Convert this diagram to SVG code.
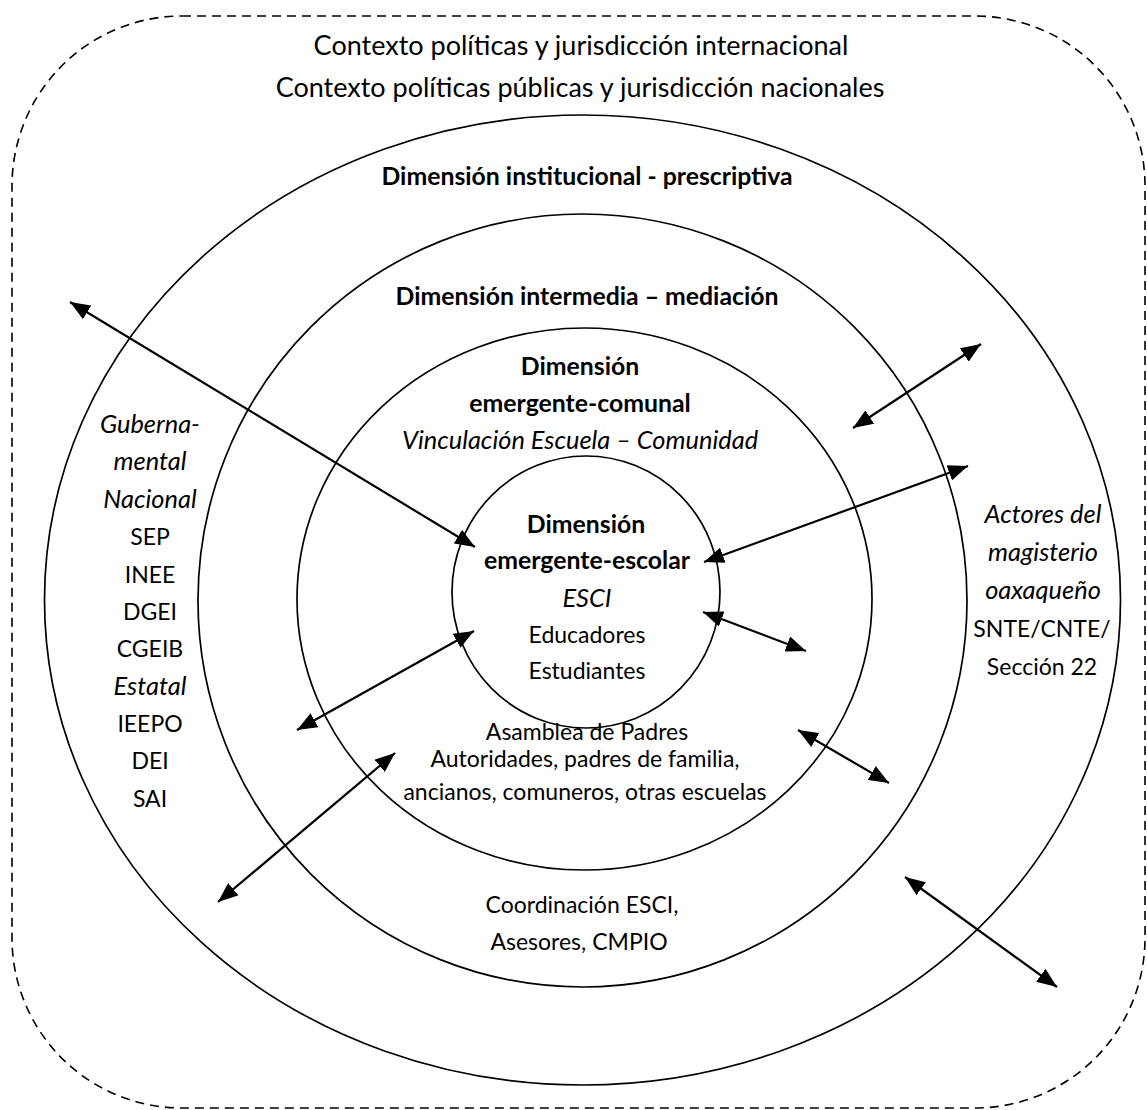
<svg xmlns="http://www.w3.org/2000/svg" width="1147" height="1110" viewBox="0 0 1147 1110">
<style>
text{font-family:Lato,"Liberation Sans",sans-serif;font-size:23px;fill:#000;text-anchor:middle}
.b{font-weight:bold;font-size:24.8px}
.i{font-style:italic;font-size:25.4px}
.big{font-size:27px}
.ring{fill:none;stroke:#000;stroke-width:1.7}
.con line{stroke:#000;stroke-width:2.2;marker-start:url(#ah);marker-end:url(#ah)}
</style>
<defs>
<marker id="ah" markerUnits="userSpaceOnUse" markerWidth="20" markerHeight="16" refX="20" refY="8" orient="auto-start-reverse" viewBox="0 0 20 16">
<path d="M0,0 L20,8 L0,16 z" fill="#000"/>
</marker>
</defs>
<rect width="1147" height="1110" fill="#fff"/>
<g id="contexto">
<rect x="12" y="16" width="1133" height="1092" rx="170" ry="170" fill="none" stroke="#000" stroke-width="1.6" stroke-dasharray="9,6"/>
<text class="big" x="581" y="55">Contexto políticas y jurisdicción internacional</text>
<text class="big" x="580" y="97">Contexto políticas públicas y jurisdicción nacionales</text>
</g>
<g id="institucional">
<ellipse class="ring" cx="582.5" cy="600" rx="538" ry="485"/>
<text class="b" x="587" y="185">Dimensión institucional - prescriptiva</text>
<text class="i" x="150" y="433">Guberna-</text>
<text class="i" x="150" y="470">mental</text>
<text class="i" x="150" y="508">Nacional</text>
<text x="150" y="545">SEP</text>
<text x="150" y="583">INEE</text>
<text x="150" y="620">DGEI</text>
<text x="150" y="657">CGEIB</text>
<text class="i" x="150" y="695">Estatal</text>
<text x="150" y="732">IEEPO</text>
<text x="150" y="769">DEI</text>
<text x="150" y="807">SAI</text>
<text class="i" x="1043" y="523">Actores del</text>
<text class="i" x="1043" y="561">magisterio</text>
<text class="i" x="1043" y="599">oaxaqueño</text>
<text x="1042" y="637">SNTE/CNTE/</text>
<text x="1042" y="675">Sección 22</text>
</g>
<g id="intermedia">
<ellipse class="ring" cx="582.5" cy="600.5" rx="384.5" ry="386.5"/>
<text class="b" x="587" y="305">Dimensión intermedia – mediación</text>
<text x="582" y="913">Coordinación ESCI,</text>
<text x="579" y="950">Asesores, CMPIO</text>
</g>
<g id="comunal">
<ellipse class="ring" cx="584.5" cy="599" rx="287.5" ry="271"/>
<text class="b" x="580" y="375">Dimensión</text>
<text class="b" x="580" y="412">emergente-comunal</text>
<text class="i" x="580" y="449">Vinculación Escuela – Comunidad</text>
<text x="587" y="740">Asamblea de Padres</text>
<text x="585" y="767">Autoridades, padres de familia,</text>
<text x="585" y="800">ancianos, comuneros, otras escuelas</text>
</g>
<g id="escolar">
<ellipse class="ring" cx="586" cy="592" rx="134" ry="136"/>
<text class="b" x="586" y="533">Dimensión</text>
<text class="b" x="587" y="569">emergente-escolar</text>
<text class="i" x="587" y="607">ESCI</text>
<text x="587" y="643">Educadores</text>
<text x="587" y="679">Estudiantes</text>
</g>
<g id="conectores" class="con">
<line x1="70" y1="302" x2="475" y2="547"/>
<line x1="853" y1="428" x2="981" y2="344"/>
<line x1="704" y1="562" x2="968" y2="466"/>
<line x1="703" y1="612" x2="806" y2="651"/>
<line x1="297" y1="730" x2="474" y2="631"/>
<line x1="218" y1="902" x2="395" y2="753"/>
<line x1="798" y1="730" x2="889" y2="783"/>
<line x1="905" y1="877" x2="1057" y2="987"/>
</g>
</svg>
